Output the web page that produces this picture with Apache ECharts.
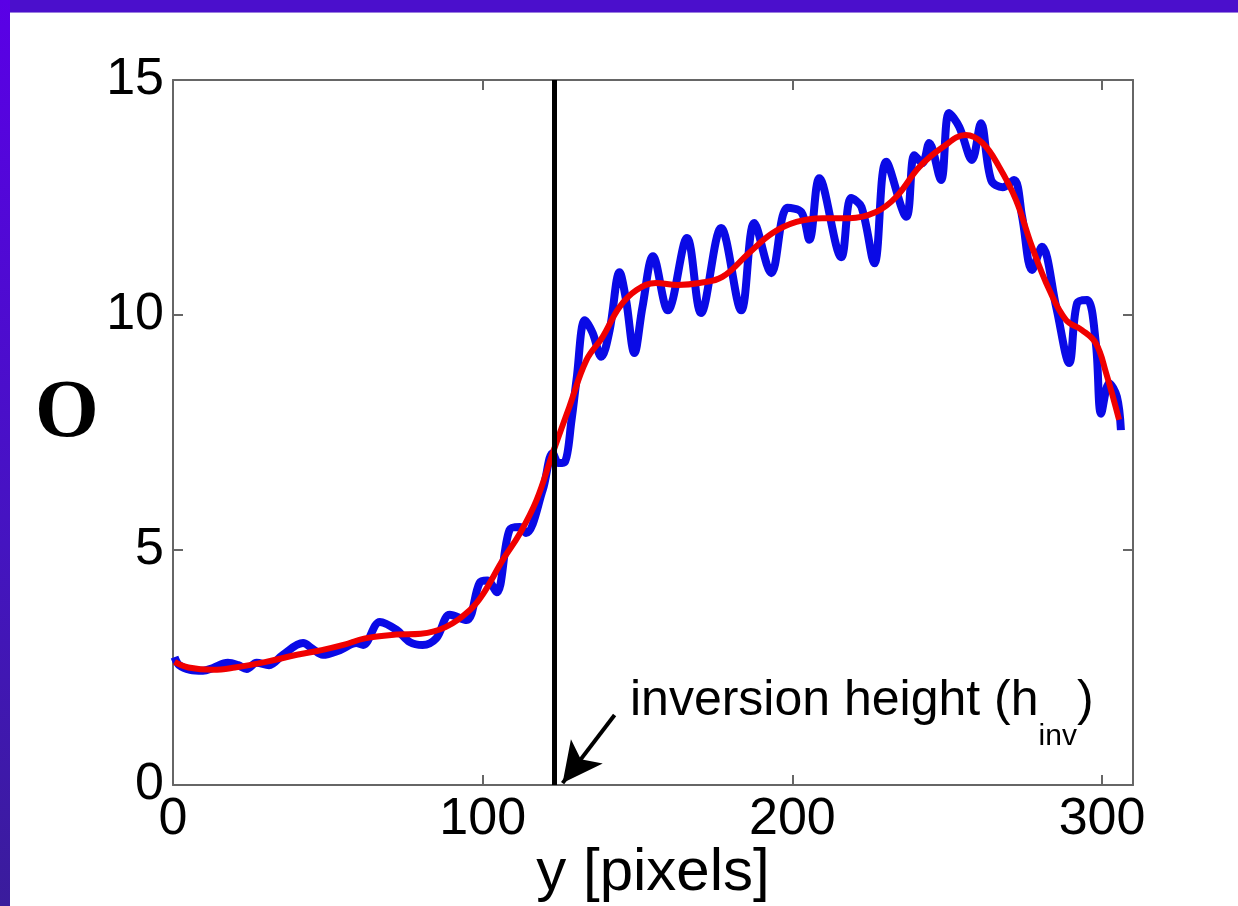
<!DOCTYPE html>
<html>
<head>
<meta charset="utf-8">
<script src="https://cdn.jsdelivr.net/npm/echarts@6/dist/echarts.min.js"></script>
<style>
  body { margin: 0; background: #fff; }
  #wrap { position: relative; width: 1238px; height: 906px; overflow: hidden; }
  #main { position: absolute; left: 0; top: 0; width: 1238px; height: 906px; }
  .band-top { position: absolute; left: 0; top: 0; width: 1238px; height: 12px; background: #4b0fcc; border-bottom: 1px solid #9a7ee0; }
  .band-left { position: absolute; left: 0; top: 0; width: 10px; height: 906px; background: linear-gradient(#5a00e6, #4514c0 60%, #3a1c9c); }
</style>
</head>
<body>
<div id="wrap">
  <div id="main"></div>
  <div class="band-top"></div>
  <div class="band-left"></div>
</div>
<script>
// measured profile (blue) and its smoothed fit (red), [y pixel, O]
const rawProfile = [
  [0.5, 2.72], [2, 2.55], [5.5, 2.45], [9.7, 2.43], [12.9, 2.49], [17.7, 2.6], [21, 2.55],
  [23.8, 2.47], [27, 2.6], [31, 2.55], [35.5, 2.77], [42, 3.02], [45, 2.9], [48.4, 2.77],
  [53.9, 2.87], [59.2, 3.02], [61.4, 2.98], [66.8, 3.47], [72.2, 3.3], [76.5, 3.04],
  [80.6, 2.98], [85, 3.12], [89.4, 3.62], [94.8, 3.51], [99, 4.3], [101.5, 4.35],
  [104.5, 4.1], [108.7, 5.43], [112, 5.49], [114, 5.36], [119.4, 6.28], [122.6, 7.06],
  [124.5, 6.85], [126.5, 6.87], [128.7, 7.77], [130.3, 8.62], [133, 9.89], [135.5, 9.62],
  [138.3, 9.11], [141, 9.68], [144.2, 10.91], [146.3, 10.32], [149, 9.19], [151.6, 10.17],
  [155, 11.25], [159.8, 10.1], [166, 11.64], [170.5, 10.04], [177, 11.85], [183.5, 10.1],
  [187.7, 11.96], [193.2, 10.89], [198.4, 12.28], [202.9, 12.19], [205.5, 11.6],
  [208.7, 12.91], [215.8, 11.23], [219, 12.49], [222.3, 12.3], [226.5, 11.1], [230.3, 13.26],
  [236.8, 12.09], [239.4, 13.4], [242, 13.23], [244.2, 13.66], [248, 12.87], [250.6, 14.3],
  [253.9, 14.0], [258, 13.3], [260.9, 14.08], [264.2, 12.87], [267.9, 12.72], [271.6, 12.87],
  [274.2, 12.09], [277.4, 10.96], [280.6, 11.45], [285.2, 10.17], [289.4, 8.98], [292, 10.26],
  [295.2, 10.32], [298, 9.4], [299.7, 7.9], [302.3, 8.55], [304.8, 8.26], [306.1, 7.55]
];
const smoothFit = [
  [0.5, 2.62], [5, 2.5], [13, 2.45], [20, 2.5], [30, 2.62], [40, 2.77], [48, 2.87],
  [55, 2.98], [62, 3.12], [72, 3.2], [80, 3.22], [88, 3.36], [95.8, 3.72], [100, 4.05],
  [106.5, 4.79], [112, 5.35], [117.4, 6.06], [122.6, 7.06], [128, 8.05], [133.5, 9.04],
  [138.7, 9.53], [144.2, 10.17], [149.7, 10.53], [156, 10.68], [163, 10.64], [170, 10.68],
  [177.4, 10.81], [186, 11.32], [193.5, 11.74], [201.3, 11.98], [209.7, 12.06],
  [218.4, 12.06], [227, 12.19], [233.5, 12.51], [241, 13.15], [248.5, 13.57], [256, 13.83],
  [261.4, 13.66], [266.8, 13.15], [272.2, 12.45], [277.4, 11.45], [283, 10.53],
  [288.4, 9.89], [293.5, 9.68], [298, 9.4], [301.3, 8.77], [305.5, 7.77]
];
const inversionHeight = 123;
const arrowFrom = [142.6, 1.49];
const arrowTo = [125.8, 0.04];
const xTicks = [0, 310, 100];   // min, max, interval
const yTicks = [0, 15, 5];

const labelFont = 'Liberation Sans, Arial, sans-serif';

function axisCommon(show, showMax) {
  return {
    axisLine: { show: true, onZero: false, lineStyle: { color: '#666', width: 2 } },
    axisTick: { show: true, inside: true, length: 10, lineStyle: { color: '#666', width: 2 } },
    splitLine: { show: false },
    axisLabel: {
      show: show, color: '#000', fontSize: 52, fontFamily: labelFont,
      margin: 9, showMaxLabel: showMax
    }
  };
}

const chart = echarts.init(document.getElementById('main'));
const option = {
  backgroundColor: '#fff',
  animation: false,
  grid: { left: 173, right: 105, top: 80, bottom: 121, outerBoundsMode: 'none', containLabel: false },
  xAxis: [
    Object.assign({
      type: 'value', min: xTicks[0], max: xTicks[1], interval: xTicks[2],
      name: 'y [pixels]', nameLocation: 'middle', nameGap: 58, nameMoveOverlap: false,
      nameTextStyle: { color: '#000', fontSize: 60, fontFamily: labelFont }
    }, axisCommon(true, false)),
    Object.assign({
      type: 'value', position: 'top', min: xTicks[0], max: xTicks[1], interval: xTicks[2]
    }, axisCommon(false, false))
  ],
  yAxis: [
    Object.assign({ type: 'value', min: yTicks[0], max: yTicks[1], interval: yTicks[2] }, axisCommon(true, true)),
    Object.assign({ type: 'value', position: 'right', min: yTicks[0], max: yTicks[1], interval: yTicks[2] }, axisCommon(false, true))
  ],
  series: [
    {
      name: 'profile', type: 'line', data: rawProfile, smooth: 0.35,
      showSymbol: false, lineStyle: { color: '#0a0ae6', width: 8 }, z: 2,
      markLine: {
        silent: true, animation: false,
        symbol: ['none', 'none'],
        label: { show: false },
        data: [
          { xAxis: inversionHeight, lineStyle: { color: '#000', width: 5, type: 'solid' } },
          [
            { coord: arrowFrom, symbol: 'none' },
            { coord: arrowTo, symbol: 'arrow', symbolSize: [30, 40], lineStyle: { color: '#000', width: 4, type: 'solid' } }
          ]
        ]
      }
    },
    {
      name: 'fit', type: 'line', data: smoothFit, smooth: 0.4,
      showSymbol: false, lineStyle: { color: '#f00000', width: 6 }, z: 3
    }
  ],
  graphic: [
    {
      type: 'text', left: 35, top: 374,
      style: { text: 'O', fill: '#000', font: 'bold 82px "Liberation Serif", "Times New Roman", serif' }
    },
    {
      type: 'text', x: 630, y: 694,
      style: {
        text: '{a|inversion height (h}{b|inv}{a|)}',
        verticalAlign: 'top',
        rich: {
          a: { fontSize: 50, fontFamily: labelFont, fill: '#000', lineHeight: 58, verticalAlign: 'bottom', padding: [0, 0, 26, 0] },
          b: { fontSize: 30, fontFamily: labelFont, fill: '#000', lineHeight: 32, verticalAlign: 'bottom' }
        }
      }
    }
  ]
};
chart.setOption(option);
</script>
</body>
</html>
